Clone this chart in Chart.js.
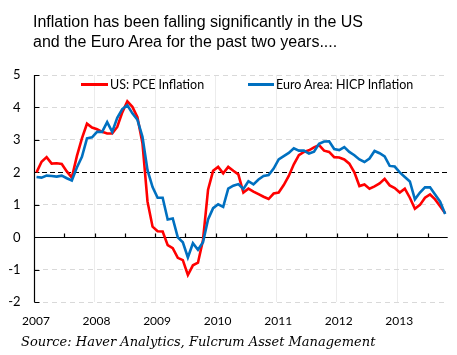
<!DOCTYPE html>
<html>
<head>
<meta charset="utf-8">
<script src="https://cdn.jsdelivr.net/npm/chart.js@4/dist/chart.umd.min.js"></script>
<style>
  html, body { margin: 0; padding: 0; background: #fff; }
  #wrap { position: relative; width: 457px; height: 355px; overflow: hidden; }
  #c { position: absolute; left: 0; top: 0; }
  .title { position: absolute; left: 33px; top: 11.5px; font: 16px "Liberation Sans", Arial, sans-serif; line-height: 20.5px; color: #000; white-space: nowrap; }
  .source { position: absolute; left: 21px; top: 333.5px; font: italic 13px "DejaVu Serif", serif; line-height: 16px; color: #000; white-space: nowrap; }
  .leg { position: absolute; top: 76.6px; font: 12.5px Lato, "Liberation Sans", sans-serif; line-height: 16px; color: #000; white-space: nowrap; }
  .legline { position: absolute; height: 2.6px; top: 83px; }
</style>
</head>
<body>
<div id="wrap">
  <canvas id="c" width="457" height="355"></canvas>
  <div class="title">Inflation has been falling significantly in the US<br>and the Euro Area for the past two years....</div>
  <div class="legline" id="l1" style="left:81px;width:27px;"></div>
  <div class="leg" style="left:110px;">US: PCE Inflation</div>
  <div class="legline" id="l2" style="left:248px;width:26px;"></div>
  <div class="leg" style="left:276px;">Euro Area: HICP Inflation</div>
  <div class="source">Source: Haver Analytics, Fulcrum Asset Management</div>
</div>
<script>
// ---- data (monthly, year-on-year %, Jan 2007 .. Oct 2013) ----
const startYear = 2007;
const usPce = [
  2.0, 2.33, 2.47, 2.27, 2.28, 2.26, 2.03, 1.84, 2.5, 3.05, 3.5, 3.38,
  3.33, 3.25, 3.2, 3.2, 3.4, 3.85, 4.19, 4.02, 3.7, 2.9, 1.1, 0.33,
  0.19, 0.18, -0.24, -0.33, -0.63, -0.7, -1.16, -0.86, -0.78, -0.08, 1.47, 2.05,
  2.17, 1.97, 2.17, 2.05, 1.94, 1.38, 1.5, 1.41, 1.33, 1.25, 1.18, 1.35,
  1.38, 1.61, 1.89, 2.25, 2.53, 2.63, 2.68, 2.77, 2.84, 2.67, 2.63, 2.47,
  2.46, 2.4, 2.27, 2.0, 1.58, 1.63, 1.5, 1.57, 1.66, 1.8, 1.6, 1.52,
  1.38, 1.5, 1.22, 0.88, 1.0, 1.22, 1.32, 1.17, 0.96, 0.74
];
const euroHicp = [
  1.86, 1.84, 1.9, 1.89, 1.87, 1.9, 1.82, 1.75, 2.15, 2.48, 3.05, 3.08,
  3.25, 3.25, 3.55, 3.25, 3.68, 3.95, 4.07, 3.82, 3.62, 3.1, 2.07, 1.55,
  1.22, 1.22, 0.55, 0.58, 0.0, -0.15, -0.62, -0.18, -0.38, -0.15, 0.55, 0.9,
  1.02, 0.94, 1.5, 1.59, 1.64, 1.49, 1.73, 1.63, 1.78, 1.89, 1.92, 2.12,
  2.4, 2.5, 2.6, 2.74, 2.67, 2.67, 2.58, 2.64, 2.88, 2.95, 2.96, 2.72,
  2.69, 2.78, 2.63, 2.53, 2.4, 2.32, 2.43, 2.66, 2.59, 2.49, 2.2, 2.18,
  2.0, 1.86, 1.72, 1.17, 1.38, 1.54, 1.54, 1.32, 1.1, 0.72
];
const yearTicks = [2007, 2008, 2009, 2010, 2011, 2012, 2013];
const yTicks = [-2, -1, 0, 1, 2, 3, 4, 5];
const targetLevel = 2;
const seriesNames = ['US: PCE Inflation', 'Euro Area: HICP Inflation'];

const RED = '#ff0000';
const BLUE = '#0070c0';
document.getElementById('l1').style.background = RED;
document.getElementById('l2').style.background = BLUE;

const toPoints = arr => arr.map((v, i) => ({ x: startYear + (i + 0.5) / 12, y: v }));

const axesPlugin = {
  id: 'axesPlugin',
  beforeDatasetsDraw(chart) {
    const { ctx, chartArea: a, scales: { x, y } } = chart;
    ctx.save();
    // dashed target line
    const y2 = Math.round(y.getPixelForValue(targetLevel)) + 0.5;
    ctx.strokeStyle = '#000';
    ctx.lineWidth = 1.2;
    ctx.setLineDash([5, 3]);
    ctx.beginPath(); ctx.moveTo(a.left, y2); ctx.lineTo(a.right, y2); ctx.stroke();
    ctx.setLineDash([]);
    // zero line with half-year tick marks pointing up
    const y0 = Math.round(y.getPixelForValue(0)) + 0.5;
    ctx.lineWidth = 1.2;
    ctx.beginPath(); ctx.moveTo(a.left, y0); ctx.lineTo(a.right, y0); ctx.stroke();
    ctx.beginPath();
    for (let t = yearTicks[0] + 0.5; t < x.max; t += 0.5) {
      const px = Math.round(x.getPixelForValue(t)) + 0.5;
      ctx.moveTo(px, y0); ctx.lineTo(px, y0 - 4);
    }
    ctx.stroke();
    // y axis with inward ticks
    const xl = Math.round(a.left) + 0.5;
    ctx.beginPath(); ctx.moveTo(xl, a.top); ctx.lineTo(xl, a.bottom); ctx.stroke();
    ctx.beginPath();
    yTicks.forEach(v => {
      const py = Math.round(y.getPixelForValue(v)) + 0.5;
      ctx.moveTo(xl, py); ctx.lineTo(xl + 5, py);
    });
    ctx.stroke();
    ctx.restore();
  }
};

new Chart(document.getElementById('c'), {
  type: 'line',
  data: {
    datasets: [
      { label: seriesNames[0], data: toPoints(usPce), borderColor: RED, backgroundColor: RED,
        borderWidth: 2.6, pointRadius: 0, tension: 0, order: 1 },
      { label: seriesNames[1], data: toPoints(euroHicp), borderColor: BLUE, backgroundColor: BLUE,
        borderWidth: 2.6, pointRadius: 0, tension: 0, order: 0 }
    ]
  },
  options: {
    responsive: false,
    animation: false,
    devicePixelRatio: 1,
    layout: { padding: { left: 0, top: 75, right: 9.3, bottom: 22.7 } },
    plugins: { legend: { display: false }, tooltip: { enabled: false }, title: { display: false } },
    scales: {
      x: {
        type: 'linear',
        min: 2007,
        max: 2013 + 10 / 12,
        afterBuildTicks: s => { s.ticks = yearTicks.map(v => ({ value: v })); },
        afterFit: s => { s.height = 30; },
        grid: {
          drawTicks: false,
          color: c => (c.tick && c.tick.value === yearTicks[0]) ? 'rgba(0,0,0,0)' : '#ececec',
          lineWidth: 1
        },
        border: { display: false },
        ticks: {
          padding: 12,
          labelOffset: 2,
          color: '#000',
          font: { family: 'Lato', size: 12 },
          maxRotation: 0,
          callback: v => String(v)
        }
      },
      y: {
        min: -2,
        max: 5,
        afterBuildTicks: s => { s.ticks = yTicks.map(v => ({ value: v })); },
        afterFit: s => { s.width = 34; },
        grid: {
          drawTicks: false,
          color: c => (c.tick && (c.tick.value === 0 || c.tick.value === targetLevel)) ? 'rgba(0,0,0,0)' : '#d9d9d9',
          lineWidth: 1
        },
        border: { display: false, dash: [5, 4] },
        ticks: {
          padding: 13.5,
          color: '#000',
          font: { family: 'Lato', size: 13 },
          callback: v => String(v)
        }
      }
    }
  },
  plugins: [axesPlugin]
});
</script>
</body>
</html>
